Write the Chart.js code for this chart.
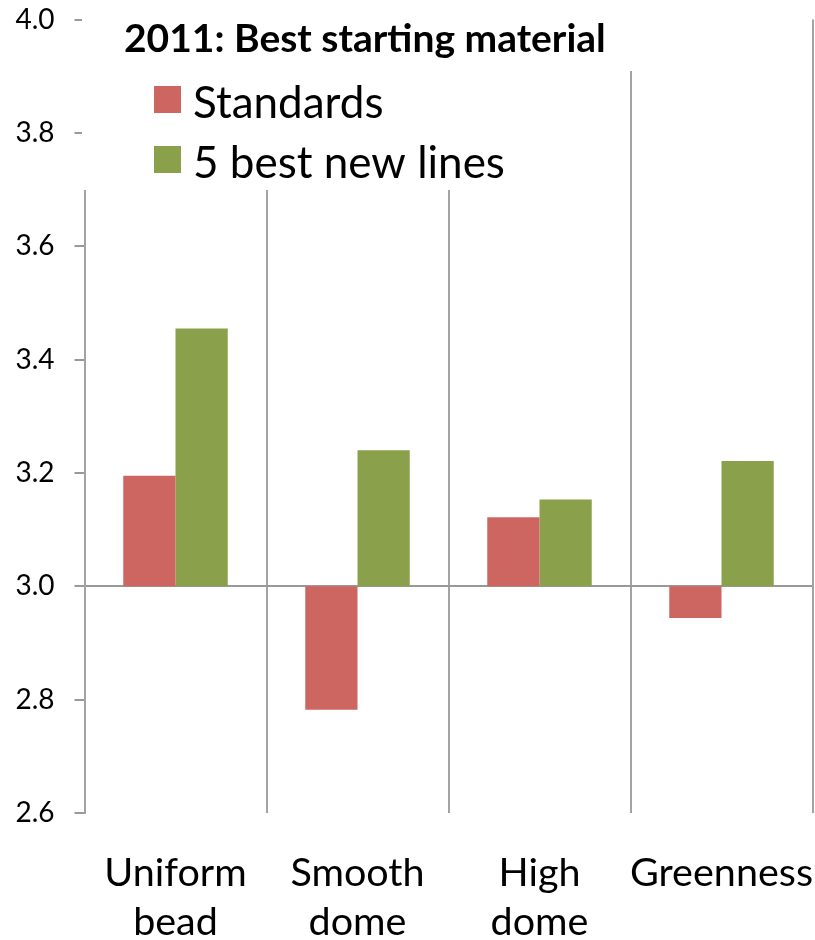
<!DOCTYPE html>
<html>
<head>
<meta charset="utf-8">
<title>2011: Best starting material</title>
<script src="https://cdn.jsdelivr.net/npm/chart.js@4.4.1/dist/chart.umd.min.js"></script>
<style>
  html, body { margin: 0; padding: 0; background: #fff; }
  #wrap { width: 815px; height: 940px; position: relative; }
</style>
</head>
<body>
<div id="wrap"><canvas id="chart"></canvas></div>
<script>
// data
const categories = [['Uniform', 'bead'], ['Smooth', 'dome'], ['High', 'dome'], ['Greenness']];
const standards = [3.195, 2.782, 3.122, 2.944];
const bestNewLines = [3.455, 3.240, 3.153, 3.221];
const baseValue = 3.0;
const yTicks = [2.6, 2.8, 3.0, 3.2, 3.4, 3.6, 3.8, 4.0];
const titleText = '2011: Best starting material';

const RED = '#CD6660';
const GREEN = '#8AA04A';
const GRID = '#A3A3A3';
const FONT = 'Lato';

// bars float from the 3.0 baseline
const toFloating = values => values.map(v => [baseValue, v]);

// title + legend sit inside the plot, on a white patch that hides the grid lines
const overlayPlugin = {
    id: 'overlay',
    afterDraw(chart) {
        const ctx = chart.ctx;
        ctx.save();
        ctx.fillStyle = '#fff';
        ctx.fillRect(82, 0, 558, 71);
        ctx.fillRect(82, 71, 458, 119);

        ctx.fillStyle = '#000';
        ctx.textBaseline = 'alphabetic';
        ctx.font = `bold 39px ${FONT}`;
        ctx.fillText(titleText, 124, 52);

        ctx.font = `44px ${FONT}`;
        chart.data.datasets.forEach((ds, i) => {
            const y = 86 + i * 60;
            ctx.fillStyle = ds.backgroundColor;
            ctx.fillRect(154, y, 27, 27);
            ctx.fillStyle = '#000';
            ctx.fillText(ds.label, 193, y + 32);
        });
        ctx.restore();
    }
};

const ctx = document.getElementById('chart').getContext('2d');

new Chart(ctx, {
    type: 'bar',
    data: {
        labels: categories,
        datasets: [{
            label: 'Standards',
            data: toFloating(standards),
            backgroundColor: RED,
            borderWidth: 0
        }, {
            label: '5 best new lines',
            data: toFloating(bestNewLines),
            backgroundColor: GREEN,
            borderWidth: 0
        }]
    },
    options: {
        responsive: true,
        maintainAspectRatio: false,
        animation: false,
        layout: { padding: { top: 19.5, right: 2.5, left: 0, bottom: 0 } },
        datasets: {
            bar: { categoryPercentage: 0.574, barPercentage: 1, borderSkipped: false }
        },
        plugins: {
            legend: { display: false },
            title: { display: false },
            tooltip: { enabled: false }
        },
        scales: {
            x: {
                offset: true,
                grid: {
                    offset: true,
                    color: GRID,
                    lineWidth: 2,
                    drawTicks: false
                },
                border: { display: false },
                ticks: {
                    color: '#000',
                    padding: 35,
                    maxRotation: 0,
                    autoSkip: false,
                    font: { family: FONT, size: 39.5, lineHeight: 1.26 }
                },
                afterFit(scale) {
                    scale.height = 127;
                    scale.paddingLeft = 0;
                    scale.paddingRight = 0;
                }
            },
            y: {
                min: 2.6,
                max: 4.0,
                afterBuildTicks(scale) {
                    scale.ticks = yTicks.map(v => ({ value: v }));
                },
                grid: {
                    color: c => (c.tick && Math.abs(c.tick.value - baseValue) < 1e-6) ? '#999' : 'rgba(0,0,0,0)',
                    lineWidth: 2,
                    tickColor: '#999',
                    tickLength: 10,
                    tickWidth: 2
                },
                border: { color: GRID, width: 2 },
                ticks: {
                    color: '#000',
                    padding: 20,
                    font: { family: FONT, size: 28 },
                    callback: v => Number(v).toFixed(1)
                },
                afterFit(scale) {
                    scale.width = 84.5;
                    scale.paddingTop = 0;
                    scale.paddingBottom = 0;
                }
            }
        }
    },
    plugins: [overlayPlugin]
});
</script>
</body>
</html>
